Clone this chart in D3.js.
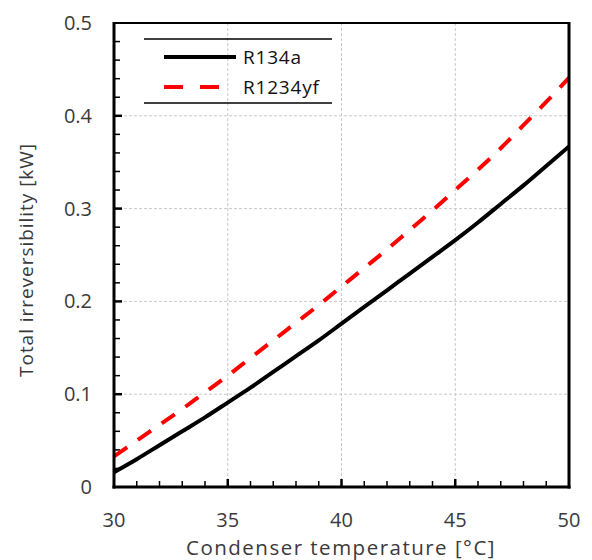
<!DOCTYPE html>
<html><head><meta charset="utf-8">
<script src="https://cdn.jsdelivr.net/npm/d3@7"></script>
<style>body{margin:0;background:#fff}svg{display:block}</style>
</head><body>
<script>
const temps = [30,31,32,33,34,35,36,37,38,39,40,41,42,43,44,45,46,47,48,49,50];
const r134a = [0.016,0.030,0.045,0.060,0.075,0.091,0.107,0.124,0.141,0.158,0.176,0.194,0.212,0.230,0.248,0.266,0.285,0.305,0.325,0.346,0.367];
const r1234yf = [0.033,0.050,0.067,0.084,0.102,0.120,0.139,0.158,0.177,0.196,0.216,0.236,0.256,0.277,0.298,0.320,0.342,0.365,0.390,0.415,0.441];
const xTicks = [30,35,40,45,50];
const yTicks = [0,0.1,0.2,0.3,0.4,0.5];
const seriesNames = ["R134a","R1234yf"];
const xLabel = "Condenser temperature [°C]";
const yLabel = "Total irreversibility [kW]";

const W=592,H=560, L=114,R=569,T=23,B=487;
const svg=d3.select("body").append("svg").attr("width",W).attr("height",H);
const x=d3.scaleLinear().domain([30,50]).range([L,R]);
const y=d3.scaleLinear().domain([0,0.5]).range([B,T]);
const font="'Open Sans', sans-serif";
const txtCol="#3a3a3a";

function fit(sel,target){
  const n=sel.text().length;
  const w=sel.node().getComputedTextLength();
  sel.attr("letter-spacing",((target-w)/n).toFixed(2));
}

// grid
const g=svg.append("g");
g.selectAll(".vg").data(xTicks.slice(1,-1)).join("line")
 .attr("x1",d=>x(d)).attr("x2",d=>x(d)).attr("y1",T).attr("y2",B)
 .attr("stroke","#c8c8c8").attr("stroke-width",1).attr("stroke-dasharray","3,2");
g.selectAll(".hg").data(yTicks.slice(1,-1)).join("line")
 .attr("y1",d=>y(d)).attr("y2",d=>y(d)).attr("x1",L).attr("x2",R)
 .attr("stroke","#c8c8c8").attr("stroke-width",1).attr("stroke-dasharray","3,2");

// minor ticks
const xMinor=d3.range(31,50,1);
svg.append("g").selectAll("line").data(xMinor).join("line")
 .attr("x1",d=>x(d)).attr("x2",d=>x(d)).attr("y1",B).attr("y2",d=>B-(d%5===0?8:6))
 .attr("stroke","#000").attr("stroke-width",d=>d%5===0?2.5:1.5);
const isMaj=d=>Math.abs(d*10-Math.round(d*10))<1e-6;
const yMinor=d3.range(1,25).map(i=>i*0.02);
svg.append("g").selectAll("line").data(yMinor).join("line")
 .attr("y1",d=>y(d)).attr("y2",d=>y(d)).attr("x1",L).attr("x2",d=>L+(isMaj(d)?8:6))
 .attr("stroke","#000").attr("stroke-width",d=>isMaj(d)?2.5:1.5);

// lines
const line=d3.line().x((d,i)=>x(temps[i])).y(d=>y(d)).curve(d3.curveMonotoneX);
svg.append("clipPath").attr("id","c").append("rect").attr("x",L).attr("y",T).attr("width",R-L).attr("height",B-T);
svg.append("path").datum(r1234yf).attr("d",line).attr("fill","none").attr("stroke","#ff0000")
 .attr("stroke-width",4).attr("stroke-dasharray","16,13").attr("clip-path","url(#c)");
svg.append("path").datum(r134a).attr("d",line).attr("fill","none").attr("stroke","#000")
 .attr("stroke-width",4).attr("clip-path","url(#c)");

// frame
svg.append("line").attr("x1",L).attr("x2",R).attr("y1",T).attr("y2",T).attr("stroke","#000").attr("stroke-width",2);
svg.append("line").attr("x1",R).attr("x2",R).attr("y1",T-1).attr("y2",B+1.5).attr("stroke","#000").attr("stroke-width",3);
svg.append("line").attr("x1",L).attr("x2",L).attr("y1",T-1).attr("y2",B+1.5).attr("stroke","#000").attr("stroke-width",3);
svg.append("line").attr("x1",L-1.5).attr("x2",R+1.5).attr("y1",B).attr("y2",B).attr("stroke","#000").attr("stroke-width",3);

// tick labels
svg.append("g").selectAll("text").data(xTicks).join("text")
 .attr("x",d=>x(d)).attr("y",527).attr("text-anchor","middle")
 .attr("font-family",font).attr("font-size",20).attr("fill",txtCol).text(d=>d);
svg.append("g").selectAll("text").data(yTicks).join("text")
 .attr("x",92).attr("y",d=>y(d)+7).attr("text-anchor","end")
 .attr("font-family",font).attr("font-size",20).attr("fill",txtCol).text(d=>d);

// axis titles
const xt=svg.append("text").attr("x",341).attr("y",555).attr("text-anchor","middle")
 .attr("font-family",font).attr("font-size",20.5).attr("fill",txtCol).text(xLabel);
fit(xt,310);
const yt=svg.append("text").attr("transform","translate(33,260) rotate(-90)").attr("text-anchor","middle")
 .attr("font-family",font).attr("font-size",19).attr("fill",txtCol).text(yLabel);
fit(yt,234);

// legend
const lg=svg.append("g");
lg.append("line").attr("x1",144).attr("x2",332).attr("y1",39).attr("y2",39).attr("stroke","#000").attr("stroke-width",1.5);
lg.append("line").attr("x1",144).attr("x2",332).attr("y1",103).attr("y2",103).attr("stroke","#000").attr("stroke-width",1.5);
lg.append("line").attr("x1",164).attr("x2",236).attr("y1",57).attr("y2",57).attr("stroke","#000").attr("stroke-width",4);
lg.append("line").attr("x1",164).attr("x2",236).attr("y1",87).attr("y2",87).attr("stroke","#ff0000").attr("stroke-width",4).attr("stroke-dasharray","19,17");
lg.selectAll("text").data(seriesNames).join("text")
 .attr("x",243).attr("y",(d,i)=>64+i*30).attr("font-family",font).attr("font-size",19)
 .attr("letter-spacing",0.8).attr("fill","#111").text(d=>d);
</script>
</body></html>
